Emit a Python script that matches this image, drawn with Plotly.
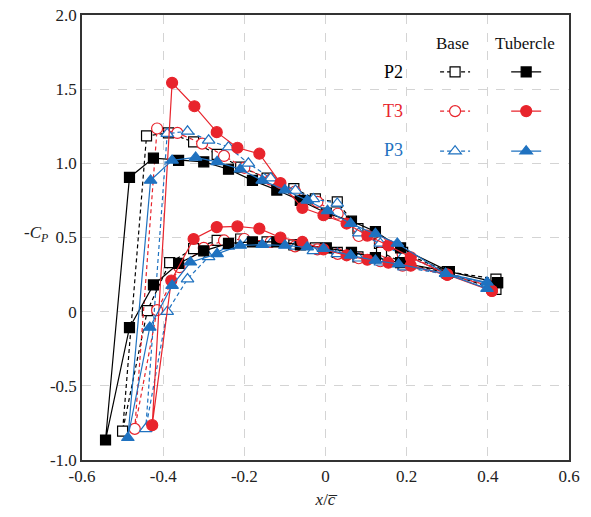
import plotly.graph_objects as go

# ---------------- data (x/c, -Cp) ----------------
# P2 base (open squares)
p2b_up_x = [-0.441, -0.387, -0.325, -0.267, -0.209, -0.144, -0.078, -0.025, 0.029, 0.080, 0.133, 0.190, 0.300, 0.420]
p2b_up_y = [1.185, 1.205, 1.144, 1.060, 0.975, 0.900, 0.830, 0.760, 0.740, 0.560, 0.460, 0.400, 0.270, 0.220]
p2b_st = (-0.500, -0.805)
p2b_lo_x = [-0.439, -0.384, -0.325, -0.267, -0.209, -0.144, -0.078, -0.025, 0.029, 0.080, 0.138, 0.190, 0.300, 0.420]
p2b_lo_y = [0.007, 0.330, 0.425, 0.480, 0.490, 0.470, 0.450, 0.430, 0.400, 0.370, 0.400, 0.330, 0.260, 0.150]

# T3 base (open circles)
t3b_up_x = [-0.415, -0.365, -0.304, -0.250, -0.200, -0.135, -0.075, -0.020, 0.030, 0.082, 0.135, 0.190, 0.300, 0.410]
t3b_up_y = [1.235, 1.205, 1.133, 1.050, 0.970, 0.890, 0.810, 0.740, 0.660, 0.510, 0.470, 0.390, 0.260, 0.170]
t3b_st = (-0.470, -0.790)
t3b_lo_x = [-0.415, -0.360, -0.300, -0.250, -0.200, -0.135, -0.075, -0.020, 0.030, 0.082, 0.135, 0.190, 0.300, 0.410]
t3b_lo_y = [0.010, 0.300, 0.430, 0.480, 0.490, 0.470, 0.440, 0.420, 0.390, 0.360, 0.340, 0.310, 0.250, 0.170]

# P3 base (open triangles)
p3b_up_x = [-0.390, -0.340, -0.288, -0.239, -0.190, -0.135, -0.074, -0.030, 0.029, 0.082, 0.135, 0.193, 0.300, 0.400]
p3b_up_y = [1.200, 1.216, 1.155, 1.110, 1.000, 0.900, 0.817, 0.760, 0.730, 0.530, 0.460, 0.380, 0.260, 0.190]
p3b_st = (-0.443, -0.790)
p3b_lo_x = [-0.390, -0.340, -0.288, -0.239, -0.190, -0.135, -0.074, -0.030, 0.029, 0.082, 0.135, 0.193, 0.300, 0.400]
p3b_lo_y = [0.000, 0.220, 0.370, 0.440, 0.470, 0.460, 0.440, 0.410, 0.390, 0.360, 0.333, 0.300, 0.250, 0.190]

# P2 tubercle (filled squares)
p2t_up_x = [-0.483, -0.424, -0.362, -0.300, -0.239, -0.180, -0.120, -0.062, 0.002, 0.064, 0.123, 0.185, 0.305, 0.424]
p2t_up_y = [0.905, 1.035, 1.020, 1.010, 0.960, 0.885, 0.820, 0.750, 0.665, 0.610, 0.540, 0.430, 0.270, 0.196]
p2t_st = (-0.542, -0.865)
p2t_lo_x = [-0.483, -0.424, -0.362, -0.300, -0.239, -0.180, -0.120, -0.062, 0.002, 0.064, 0.123, 0.185, 0.305, 0.424]
p2t_lo_y = [-0.108, 0.180, 0.325, 0.410, 0.460, 0.470, 0.470, 0.450, 0.430, 0.400, 0.365, 0.330, 0.270, 0.196]

# T3 tubercle (filled circles)
t3t_up_x = [-0.378, -0.323, -0.268, -0.217, -0.163, -0.111, -0.057, -0.005, 0.052, 0.103, 0.155, 0.210, 0.300, 0.410]
t3t_up_y = [1.543, 1.385, 1.210, 1.105, 1.065, 0.867, 0.700, 0.650, 0.594, 0.513, 0.446, 0.367, 0.250, 0.140]
t3t_st = (-0.427, -0.765)
t3t_lo_x = [-0.380, -0.325, -0.268, -0.217, -0.163, -0.111, -0.057, -0.005, 0.052, 0.103, 0.155, 0.210, 0.300, 0.410]
t3t_lo_y = [0.210, 0.490, 0.570, 0.575, 0.560, 0.500, 0.470, 0.420, 0.380, 0.350, 0.330, 0.310, 0.250, 0.140]

# P3 tubercle (filled triangles)
p3t_up_x = [-0.431, -0.378, -0.320, -0.267, -0.210, -0.156, -0.100, -0.045, 0.005, 0.062, 0.123, 0.177, 0.296, 0.398]
p3t_up_y = [0.885, 1.020, 1.040, 1.010, 0.960, 0.885, 0.820, 0.750, 0.680, 0.594, 0.525, 0.460, 0.256, 0.198]
p3t_st = (-0.487, -0.850)
p3t_lo_x = [-0.433, -0.378, -0.333, -0.267, -0.210, -0.156, -0.100, -0.045, -0.005, 0.062, 0.123, 0.180, 0.296, 0.398]
p3t_lo_y = [-0.106, 0.176, 0.333, 0.390, 0.446, 0.452, 0.446, 0.435, 0.425, 0.380, 0.345, 0.320, 0.256, 0.155]

x_ticks = [-0.6, -0.4, -0.2, 0.0, 0.2, 0.4, 0.6]
x_tick_text = ["-0.6", "-0.4", "-0.2", "0", "0.2", "0.4", "0.6"]
y_ticks = [-1.0, -0.5, 0.0, 0.5, 1.0, 1.5, 2.0]
y_tick_text = ["-1.0", "-0.5", "0", "0.5", "1.0", "1.5", "2.0"]

BLACK = "#000000"
RED = "#e8242c"
BLUE = "#1f72c0"
SERIF = "Liberation Serif"


def path(ux, uy, st, lx, ly):
    xs = list(reversed(ux)) + [st[0]] + list(lx)
    ys = list(reversed(uy)) + [st[1]] + list(ly)
    return xs, ys


# legend placement (paper fractions): column x, row y
COL_X = {"Base": 0.725, "Tubercle": 0.871}
ROW_Y = {"P2": 0.872, "T3": 0.784, "P3": 0.694}

series = [
    ("Base", "P2", path(p2b_up_x, p2b_up_y, p2b_st, p2b_lo_x, p2b_lo_y), BLACK, "square", True, 10),
    ("Base", "T3", path(t3b_up_x, t3b_up_y, t3b_st, t3b_lo_x, t3b_lo_y), RED, "circle", True, 11),
    ("Base", "P3", path(p3b_up_x, p3b_up_y, p3b_st, p3b_lo_x, p3b_lo_y), BLUE, "triangle-up", True, 11),
    ("Tubercle", "P2", path(p2t_up_x, p2t_up_y, p2t_st, p2t_lo_x, p2t_lo_y), BLACK, "square", False, 10),
    ("Tubercle", "T3", path(t3t_up_x, t3t_up_y, t3t_st, t3t_lo_x, t3t_lo_y), RED, "circle", False, 11),
    ("Tubercle", "P3", path(p3t_up_x, p3t_up_y, p3t_st, p3t_lo_x, p3t_lo_y), BLUE, "triangle-up", False, 11),
]

fig = go.Figure()
legends = {}
for i, (name, case, (xs, ys), col, sym, hollow, size) in enumerate(series):
    leg = "legend" if i == 0 else f"legend{i + 1}"
    fig.add_trace(go.Scatter(
        x=xs, y=ys, mode="lines+markers", name=name, legend=leg,
        line=dict(color=col, width=1.2, dash="4px,3px" if hollow else "solid"),
        marker=dict(symbol=sym, size=size, color="white" if hollow else col,
                    line=dict(color=col, width=1.2)),
    ))
    legends[leg] = dict(xref="paper", yref="paper", x=COL_X[name], y=ROW_Y[case],
                        xanchor="left", yanchor="middle", entrywidth=1, entrywidthmode="pixels",
                        font=dict(size=1, color="rgba(0,0,0,0)"), bgcolor="rgba(0,0,0,0)",
                        itemclick=False, itemdoubleclick=False)

fig.update_layout(
    width=591, height=517,
    margin=dict(l=82, r=22, t=15, b=57, autoexpand=False),
    paper_bgcolor="white", plot_bgcolor="white",
    font=dict(family=SERIF, size=16, color="#222"),
    showlegend=True,
    **legends,
    xaxis=dict(range=[-0.6, 0.6], tickvals=x_ticks, ticktext=x_tick_text,
               showgrid=True, gridcolor="#d4d4d4", griddash="dash", gridwidth=1.2,
               zeroline=False, showline=True, linecolor="#333", linewidth=1.5, mirror=True,
               ticks="", tickfont=dict(family=SERIF, size=17, color="#222"),
               title=dict(text="<i>x</i>/<i>c\u0305</i>", font=dict(family=SERIF, size=17), standoff=8)),
    yaxis=dict(range=[-1.0, 2.0], tickvals=y_ticks, ticktext=y_tick_text,
               showgrid=True, gridcolor="#d4d4d4", griddash="dash", gridwidth=1.2,
               zeroline=False, showline=True, linecolor="#333", linewidth=1.5, mirror=True,
               ticks="", tickfont=dict(family=SERIF, size=17, color="#222")),
    annotations=[
        dict(text="-<i>C<sub>P</sub></i>", xref="paper", yref="paper", x=-0.066, y=0.507,
             xanchor="right", yanchor="middle", showarrow=False, font=dict(family=SERIF, size=17, color="#222")),
        dict(text="Base", xref="paper", yref="paper", x=0.760, y=0.937, xanchor="center", yanchor="middle",
             showarrow=False, font=dict(family=SERIF, size=17, color="#111")),
        dict(text="Tubercle", xref="paper", yref="paper", x=0.910, y=0.937, xanchor="center", yanchor="middle",
             showarrow=False, font=dict(family=SERIF, size=17, color="#111")),
        dict(text="P2", xref="paper", yref="paper", x=0.639, y=0.872, xanchor="center", yanchor="middle",
             showarrow=False, font=dict(family=SERIF, size=18, color=BLACK)),
        dict(text="T3", xref="paper", yref="paper", x=0.639, y=0.784, xanchor="center", yanchor="middle",
             showarrow=False, font=dict(family=SERIF, size=18, color=RED)),
        dict(text="P3", xref="paper", yref="paper", x=0.639, y=0.697, xanchor="center", yanchor="middle",
             showarrow=False, font=dict(family=SERIF, size=18, color=BLUE)),
    ],
)

fig.write_html("out.html")
